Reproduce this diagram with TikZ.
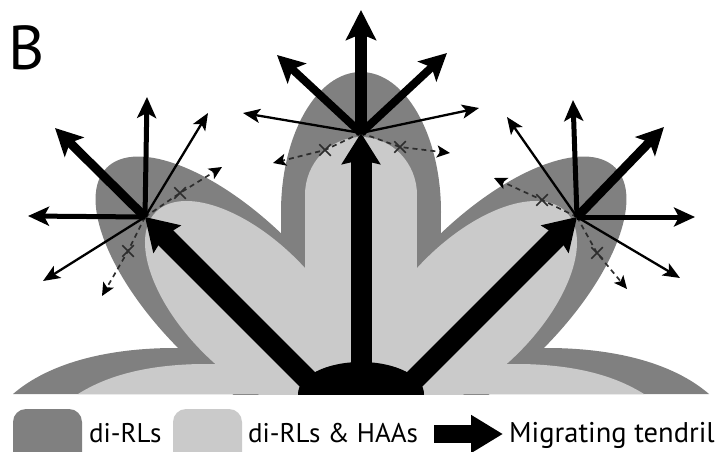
\documentclass[tikz,border=0pt]{standalone}
\usepackage{fontspec}
\setmainfont{PT Sans}
\usetikzlibrary{arrows.meta,shapes.misc}
\definecolor{darkg}{RGB}{128,128,128}
\definecolor{lightg}{RGB}{202,202,202}
\definecolor{dashg}{RGB}{45,45,45}
\tikzset{
  arrthin/.style={line width=2.3pt, -{Stealth[length=17pt,width=14pt,inset=4pt]}},
  arrmed/.style={line width=5pt, -{Stealth[length=21pt,width=19pt,inset=5pt]}},
  arrthick/.style={line width=#1, -{Stealth[length=27pt,width=27pt,inset=6pt]}},
  arrtop/.style={line width=12pt, -{Stealth[length=30pt,width=30pt,inset=6pt]}},
  tendril/.style={line width=21pt, -{Stealth[length=31pt,width=38pt,inset=4pt]}},
  dashline/.style={dashg, line width=1.7pt, dash pattern=on 5pt off 4pt,
     -{Stealth[length=13pt,width=12pt,inset=3pt,color=black]}},
  xmark/.style={cross out, draw=dashg, line width=1.5pt, minimum size=10pt, inner sep=0pt},
  legtext/.style={anchor=base west, inner sep=0pt, font=\fontsize{#1}{#1}\selectfont},
  swatch/.style={rounded corners=13pt}
}
\begin{document}
\begin{tikzpicture}[x=1pt,y=-1pt]
\useasboundingbox (0,0) rectangle (724,452);

% focal points
\coordinate (C) at (361,133);
\coordinate (L) at (145,217);
\coordinate (R) at (577,217);
% tendril bases
\coordinate (tbL) at (330,402);
\coordinate (tbC) at (361,402);
\coordinate (tbR) at (392,402);

\begin{scope}
\clip (0,0) rectangle (724,394);
% dark regions
\fill[darkg] (361,212) ellipse [x radius=80, y radius=140];
\fill[darkg] (281,212) rectangle (441,394);
\fill[darkg, rotate around={45:(234,295)}] (234,295) ellipse [x radius=77, y radius=180];
\fill[darkg, rotate around={-45:(488,295)}] (488,295) ellipse [x radius=77, y radius=180];
\fill[darkg] (13,394) .. controls (50,362) and (110,348) .. (175,348) -- (250,350) -- (250,394) -- cycle;
\fill[darkg] (709,394) .. controls (672,362) and (612,348) .. (547,348) -- (472,350) -- (472,394) -- cycle;
% light regions
\fill[lightg] (361,195) ellipse [x radius=56, y radius=58];
\fill[lightg] (305,195) rectangle (417,394);
\fill[lightg, rotate around={45:(250,306)}] (250,306) ellipse [x radius=66, y radius=133];
\fill[lightg, rotate around={-45:(472,306)}] (472,306) ellipse [x radius=66, y radius=133];
\fill[lightg] (78,394) .. controls (110,374) and (150,365) .. (200,364) -- (260,364) -- (260,394) -- cycle;
\fill[lightg] (644,394) .. controls (612,374) and (572,365) .. (522,364) -- (462,364) -- (462,394) -- cycle;
\fill[lightg] (240,340) rectangle (482,394);
% dome
\fill[black] (361,394) ellipse [x radius=63, y radius=32];
% tendrils
\draw[tendril] (tbL) -- (L);
\draw[tendril] (tbR) -- (R);
\draw[tendril] (tbC) -- (C);
\end{scope}

% arrow tips
\coordinate (cU) at (361,10);
\coordinate (cUL) at (277,55);
\coordinate (cUR) at (447,53);
\coordinate (cL) at (243,113);
\coordinate (cR) at (479,108);
\coordinate (lU) at (147,97);
\coordinate (lUL) at (55,128);
\coordinate (lUR) at (208,113);
\coordinate (lL) at (28,216);
\coordinate (lLL) at (43,281);
\coordinate (rU) at (573,100);
\coordinate (rUR) at (664,127);
\coordinate (rUL) at (507,117);
\coordinate (rR) at (695,217);
\coordinate (rLR) at (680,278);

% dashed paths
\node[xmark] (cxl) at (325,150) {};
\node[xmark] (cxr) at (400,147) {};
\node[xmark] (lxu) at (180,193) {};
\node[xmark] (lxd) at (128,251) {};
\node[xmark] (rxu) at (542,200) {};
\node[xmark] (rxd) at (597,253) {};
\coordinate (ctl) at (273,163);
\coordinate (ctr) at (450,153);
\coordinate (ltu) at (222,167);
\coordinate (ltd) at (102,296);
\coordinate (rtu) at (494,178);
\coordinate (rtd) at (627,289);
\draw[dashline] (C) -- (cxl.center) -- (ctl);
\draw[dashline] (C) -- (cxr.center) -- (ctr);
\draw[dashline] (L) -- (lxu.center) -- (ltu);
\draw[dashline] (L) -- (lxd.center) -- (ltd);
\draw[dashline] (R) -- (rxu.center) -- (rtu);
\draw[dashline] (R) -- (rxd.center) -- (rtd);

% center fan
\draw[arrtop] (C) -- (cU);
\draw[arrthick=8pt] (C) -- (cUL);
\draw[arrthick=8pt] (C) -- (cUR);
\draw[arrthin] (C) -- (cL);
\draw[arrthin] (C) -- (cR);
% left fan
\draw[arrmed] (L) -- (lU);
\draw[arrthick=9pt] (L) -- (lUL);
\draw[arrthin] (L) -- (lUR);
\draw[arrmed] (L) -- (lL);
\draw[arrthin] (L) -- (lLL);
% right fan
\draw[arrmed] (R) -- (rU);
\draw[arrthick=9pt] (R) -- (rUR);
\draw[arrthin] (R) -- (rUL);
\draw[arrmed] (R) -- (rR);
\draw[arrthin] (R) -- (rLR);

% label
\node[anchor=base west, inner sep=0pt, font=\fontsize{62}{62}\selectfont] (lab) at (8,70) {B};

% legend
\begin{scope}
\clip (0,0) rectangle (724,452);
\fill[darkg, swatch] (13,409) rectangle (82,470);
\fill[lightg, swatch] (173,409) rectangle (242,470);
\end{scope}
\node[legtext=27] (t1) at (89,442) {di-RLs};
\node[legtext=27] (t2) at (248,442) {di-RLs \& HAAs};
\coordinate (la0) at (434,434);
\coordinate (la1) at (503,434);
\draw[line width=18pt, -{Triangle[length=32pt,width=36pt]}] (la0) -- (la1);
\node[legtext=28.5] (t3) at (509,442) {Migrating tendril};
\end{tikzpicture}
\end{document}
